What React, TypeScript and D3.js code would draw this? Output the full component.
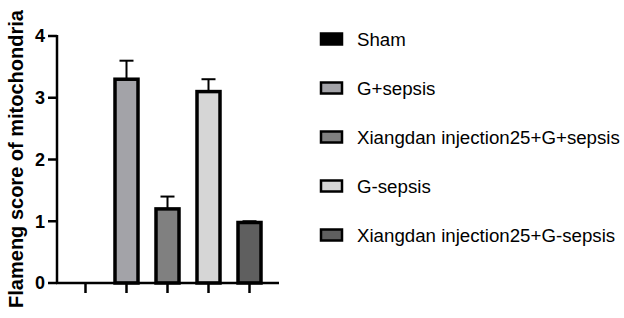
import React from "react";
import * as d3 from "d3";

const categories = [
  "Sham",
  "G+sepsis",
  "Xiangdan injection25+G+sepsis",
  "G-sepsis",
  "Xiangdan injection25+G-sepsis",
];
const means = [0, 3.3, 1.2, 3.1, 0.98];
const errors = [0, 0.3, 0.2, 0.2, 0.02];
const fills = ["#000000", "#a3a3a8", "#808080", "#d6d6d6", "#5f5f5f"];
const yTicks = [0, 1, 2, 3, 4];
const yLabel = "Flameng score of mitochondria";

const W = 624;
const H = 318;

export default function App() {
  const y = d3.scaleLinear().domain([0, 4]).range([283, 36]);
  const x = d3.scalePoint<string>().domain(categories).range([57, 278]).padding(0.695);
  const barW = 23;
  const capW = 14;
  const font = "Liberation Sans, Arial, sans-serif";
  const legY = d3.scalePoint<string>().domain(categories).range([39, 235]);

  return (
    <svg width={W} height={H} style={{ position: "absolute", left: 0, top: 0 }}>
      <rect width={W} height={H} fill="#fff" />
      {/* error bars */}
      {categories.map((c, i) =>
        errors[i] > 0 ? (
          <g key={"e" + i} stroke="#000" strokeWidth={2}>
            <line x1={x(c)} x2={x(c)} y1={y(means[i])} y2={y(means[i] + errors[i])} />
            <line x1={x(c)! - capW / 2} x2={x(c)! + capW / 2} y1={y(means[i] + errors[i])} y2={y(means[i] + errors[i])} />
          </g>
        ) : null
      )}
      {/* bars */}
      {categories.map((c, i) =>
        means[i] > 0 ? (
          <rect
            key={"b" + i}
            x={x(c)! - barW / 2}
            y={y(means[i])}
            width={barW}
            height={y(0) - y(means[i])}
            fill={fills[i]}
            stroke="#000"
            strokeWidth={3.5}
          />
        ) : null
      )}
      {/* y axis */}
      <line x1={57} x2={57} y1={y(4) - 1} y2={y(0) + 1} stroke="#000" strokeWidth={2.5} />
      {yTicks.map((t) => (
        <g key={"yt" + t}>
          <line x1={48} x2={57} y1={y(t)} y2={y(t)} stroke="#000" strokeWidth={2.5} />
          <text x={45} y={y(t)} dy="0.36em" textAnchor="end" fontFamily={font} fontWeight="bold" fontSize={18}>
            {t}
          </text>
        </g>
      ))}
      {/* x axis */}
      <line x1={56} x2={279} y1={y(0)} y2={y(0)} stroke="#000" strokeWidth={2.5} />
      {categories.map((c) => (
        <line key={"xt" + c} x1={x(c)} x2={x(c)} y1={y(0)} y2={y(0) + 10} stroke="#000" strokeWidth={2.5} />
      ))}
      {/* y label */}
      <text
        transform={`translate(23,${(10 + 308) / 2}) rotate(-90)`}
        textAnchor="middle"
        fontFamily={font}
        fontWeight="bold"
        fontSize={20}
      >
        {yLabel}
      </text>
      {/* legend */}
      {categories.map((c, i) => (
        <g key={"l" + i}>
          <rect x={321} y={legY(c)! - 5.5} width={21} height={11} fill={fills[i]} stroke="#000" strokeWidth={2.5} />
          <text x={357} y={legY(c)!} dy="0.36em" fontFamily={font} fontSize={18.7}>
            {c}
          </text>
        </g>
      ))}
    </svg>
  );
}
